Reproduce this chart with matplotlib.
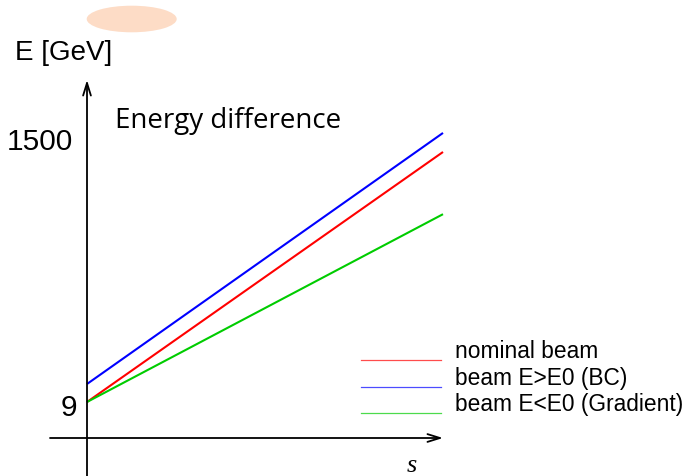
import matplotlib
matplotlib.use("Agg")
import matplotlib.pyplot as plt
from matplotlib.patches import Ellipse

# ---- data ----
s_points = [0.0, 1.0]                      # position along the linac (arbitrary units)
nominal = [9, 1440]                        # nominal beam energy [GeV]
beam_bc = [112, 1549]                      # beam E>E0 (BC)
beam_grad = [9, 1084]                      # beam E<E0 (Gradient)
series_labels = ["nominal beam", "beam E>E0 (BC)", "beam E<E0 (Gradient)"]
series_colors = ["#ff0000", "#0000ff", "#00cc00"]
ytick_values = [9, 1500]
ytick_labels = ["9", "1500"]

W, H, DPI = 689, 476, 100
fig = plt.figure(figsize=(W / DPI, H / DPI), dpi=DPI)
ax = fig.add_axes([0, 0, 1, 1])
ax.set_axis_off()

# scale: s=0 at px 87, s=1 at px 443; E=9 at py 402, E=1500 at py 141.5
x0px, x1px = 87, 443
sx = (x1px - x0px)
y9, y1500 = 402, 141.5
k = (y9 - y1500) / (1500 - 9)
ax.set_xlim(-x0px / sx, (W - x0px) / sx)
ax.set_ylim(9 - (H - y9) / k, 9 + y9 / k)

def E_at(py):
    return 9 + (y9 - py) / k

def S_at(px):
    return (px - x0px) / sx

# axes arrows
arrow_kw = dict(arrowstyle="->,head_length=0.9,head_width=0.28", lw=1.3, color="black",
                shrinkA=0, shrinkB=0)
ax.annotate("", xy=(0, E_at(80)), xytext=(0, E_at(480)), arrowprops=arrow_kw)
ax.annotate("", xy=(S_at(443), E_at(438)), xytext=(S_at(50), E_at(438)), arrowprops=arrow_kw)

# series lines
for vals, c in zip([nominal, beam_bc, beam_grad], series_colors):
    ax.plot(s_points, vals, color=c, lw=1.5, solid_capstyle="butt")

# tick labels
ax.text(S_at(73), E_at(141.5), ytick_labels[1], ha="right", va="center",
        fontsize=21.5, family="Liberation Sans")
ax.text(S_at(77), E_at(408.5), ytick_labels[0], ha="right", va="center",
        fontsize=21.5, family="Liberation Sans")

# axis labels
ax.text(S_at(15), E_at(53), "E [GeV]", ha="left", va="center",
        fontsize=20, family="Liberation Sans")
ax.text(S_at(412), E_at(466), "s", ha="center", va="center",
        fontsize=19, family="Liberation Serif", style="italic")

# title text
ax.text(S_at(115), E_at(121), "Energy difference", ha="left", va="center",
        fontsize=20, family="Open Sans")

# legend (custom)
leg_y = [360, 387, 413]
for lab, c, py in zip(series_labels, series_colors, leg_y):
    ax.plot([S_at(361), S_at(441)], [E_at(py), E_at(py)], color=c, lw=0.9, alpha=0.7)
    ax.text(S_at(455), E_at(py - 8), lab, ha="left", va="center",
            fontsize=16.4, family="Liberation Sans")

# decorative ellipse
fig.patches.append(Ellipse((131.7 / W, 1 - 19 / H), 90 / W, 26.6 / H,
                           transform=fig.transFigure, facecolor="#fddcc6",
                           edgecolor="none", figure=fig))

fig.savefig("out.png", dpi=DPI)
